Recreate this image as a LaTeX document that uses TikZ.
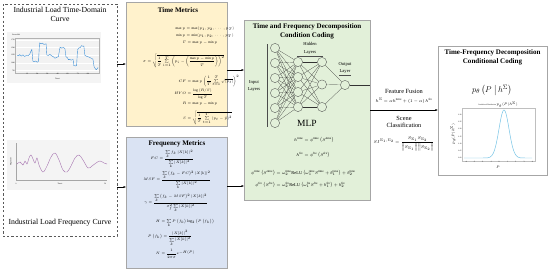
\documentclass[tikz,border=0pt]{standalone}
\usepackage{amsmath}
\usepackage{fontspec}
\setmainfont{Liberation Serif}
\usetikzlibrary{arrows.meta}
\definecolor{yellowbg}{HTML}{FFF2CC}
\definecolor{bluebg}{HTML}{DAE3F3}
\definecolor{greenbg}{HTML}{E2F0D9}
\definecolor{boxgray}{HTML}{A6A6A6}
\definecolor{chartbg}{HTML}{F4F4F4}
\definecolor{seriesblue}{HTML}{3A8ED6}
\definecolor{wavepurple}{HTML}{A978B2}
\definecolor{gaussblue}{HTML}{74C3E6}

\tikzset{
  paneltitle/.style={font=\fontsize{11}{12.5}\selectfont, align=center, inner sep=0},
  boxtitle/.style={font=\bfseries\fontsize{10}{12.5}\selectfont, align=center, inner sep=0},
  eqt/.style={font=\fontsize{5}{6}\selectfont, inner sep=0, anchor=west},
  eqf/.style={font=\fontsize{5.5}{6.5}\selectfont, inner sep=0, anchor=west},
  eqg/.style={font=\fontsize{6.3}{7}\selectfont, inner sep=0},
  layerlbl/.style={font=\fontsize{6.5}{10.5}\selectfont, align=center, inner sep=0},
  midlbl/.style={font=\fontsize{9}{11}\selectfont, align=center, inner sep=0},
  ticklbl/.style={font=\fontsize{2.6}{3}\selectfont, inner sep=0.4pt},
  neuron/.style={circle, draw=black!75, fill=greenbg, line width=0.4pt,
                 minimum size=0.46cm, inner sep=0},
  link/.style={black!80, line width=0.25pt},
  arr/.style={-{Latex[length=3.5pt,width=3pt]}, line width=0.5pt}
}

\begin{document}
\begin{tikzpicture}[x=0.05cm, y=-0.05cm]
  \useasboundingbox (0,0) rectangle (550,270);

  % Panel: load curves (left)
  \node[draw=black!65, dashed, line width=0.6pt, inner sep=0,
        minimum width=5.7cm, minimum height=11.6cm] (curves) at (60,120) {};
  \node[paneltitle] (curvettl) at (60,14.5) {Industrial Load Time-Domain\\Curve};
  \node[paneltitle] (freqttl) at (60,223) {Industrial Load Frequency Curve};

  % Time-domain chart
  \fill[chartbg] (7,32) rectangle (101,83);
  \begin{scope}[shift={(17,93.7)}, x=0.0422cm, y=0.001535cm]
    \fill[gray!10] (-2,675) rectangle (97,1815);
    \foreach \v in {750,1000,...,1750}
      \draw[white, line width=0.4pt] (-2,\v) -- (97,\v);
    \draw[gray!60, line width=0.3pt] (-2,675) rectangle (97,1815);
    \foreach \v in {750,1000,...,1750}
      \node[ticklbl, anchor=east] (ty\v) at (-2,\v) {\v};
    \foreach \t in {12,24,...,84}
      \node[ticklbl, anchor=north] (tx\t) at (\t,675) {\t};
    \node[ticklbl, anchor=west] (powerlbl) at (-6,1900) {Power/kW};
    \node[ticklbl] (timelbl) at (48,470) {Time/t};
    \draw[seriesblue, line width=0.55pt, line join=round] plot coordinates {
      (0,1250) (2,1230) (3,1270) (5,1220) (7,1260) (9,1210) (11,1240)
      (13,1230) (15,1280) (16,1350) (17.6,1440) (18.8,1060) (20,1040)
      (22,1060) (24,1020) (25.5,1050) (26.7,1650) (28,1620) (30,1640)
      (32,1600) (34.5,1620) (35.3,1260) (37,1240) (39,1280) (41,1230)
      (43,1200) (45,1150) (47,1180) (49,1200) (51,1510) (53,1480)
      (55,1500) (56.8,1460) (58,1200) (60,1160) (60.8,1100) (62,1120)
      (64,1090) (66.6,1110) (67,920) (69,900) (70.6,910) (71.7,1420)
      (73,1480) (75,1500) (76.4,1560) (78,1540) (79.2,1550) (80.4,1250)
      (82,1220) (84,1200) (86,1180) (88,1150) (90,1120) (91.3,880)
      (93,800) (94,780) (96,850)};
  \end{scope}

  % Frequency chart
  \fill[chartbg] (7,140) rectangle (110,190);
  \draw[gray!70, line width=0.3pt] (16,143) -- (16,180) -- (107,180);
  \node[ticklbl, rotate=90] (maglbl) at (11,162) {Magnitude};
  \node[ticklbl] (fx0) at (16,183.5) {0};
  \node[ticklbl] (fx50) at (105,183.5) {50};
  \node[ticklbl] (ftimelbl) at (60,183.5) {Time/t};
  \draw[wavepurple, line width=0.6pt] plot[smooth, tension=0.6] coordinates {
    (17,164) (20,162) (23,165) (25,161) (27,164) (29,158) (31,155)
    (33,159) (35,163) (37,158) (39,165) (43,172) (47,166) (51,157)
    (55,153) (59,160) (63,170) (67,172) (71,166) (75,158) (79,155)
    (83,160) (88,168) (92,166) (96,163) (100,161) (104,163) (107,164)};

  % Box: time metrics
  \node[draw=boxgray, fill=yellowbg, line width=0.5pt, inner sep=0,
        minimum width=5.05cm, minimum height=6.2cm] (timem) at (176.5,64) {};
  \node[boxtitle] (timettl) at (178,10) {Time Metrics};
  \node[eqt] (tm1) at (185,29) {\llap{$\max p$}${}=\max(p_1,p_2,\cdots,p_T)$};
  \node[eqt] (tm2) at (185,36) {\llap{$\min p$}${}=\min(p_1,p_2,\cdots,p_T)$};
  \node[eqt] (tm3) at (186,43) {\llap{$\Gamma$}${}=\max p-\min p$};
  \node[eqt] (tm4) at (146,61) {\llap{$\sigma$}${}=\sqrt{\dfrac{1}{T}\sum\limits_{i=1}^{T}\left(p_i-\left(\dfrac{\max p-\min p}{T}\right)\right)^2}$};
  \node[eqt] (tm5) at (186,81) {\llap{$CF$}${}=\max p\left(\dfrac{1}{T}\sum\limits_{t=1}^{T}\sqrt{\left|p_t\right|}\right)^2$};
  \node[eqt] (tm6) at (186,94) {\llap{$HYO$}${}=\dfrac{\log\left(R/S\right)}{\log T}$};
  \node[eqt] (tm7) at (186,104) {\llap{$R$}${}=\max p-\min p$};
  \node[eqt] (tm8) at (186,118) {\llap{$S$}${}=\sqrt{\dfrac{1}{T}\sum\limits_{t=1}^{T}\left(p_t-\bar{p}\right)^2}$};

  % Box: frequency metrics
  \node[draw=boxgray, fill=bluebg, line width=0.5pt, inner sep=0,
        minimum width=5.05cm, minimum height=6.55cm] (freqm) at (176.5,202.5) {};
  \node[boxtitle] (freqmttl) at (177,144) {Frequency Metrics};
  \node[eqf] (fm1) at (158,159) {\llap{$FC$}${}=\dfrac{\sum\limits_k f_k\left|X[k]\right|^2}{\sum\limits_k\left|X[k]\right|^2}$};
  \node[eqf] (fm2) at (155,180) {\llap{$MSF$}${}=\dfrac{\sum\limits_k\left(f_k-FC\right)^2\left|X[k]\right|^2}{\sum\limits_k\left|X[k]\right|^2}$};
  \node[eqf] (fm3) at (147,203) {\llap{$\gamma$}${}=\dfrac{\sum\limits_k\left(f_k-MSF\right)^2\left|X[k]\right|^2}{\sigma_f^2\sum\limits_k\left|X[k]\right|^2}$};
  \node[eqf] (fm4) at (160,223) {\llap{$H$}${}=\sum\limits_k P\left(f_k\right)\log_2\left(P\left(f_k\right)\right)$};
  \node[eqf] (fm5) at (162,238) {\llap{$P\left(f_k\right)$}${}=\dfrac{\left|X[k]\right|^2}{\sum\limits_k\left|X[k]\right|^2}$};
  \node[eqf] (fm6) at (160,254) {\llap{$N$}${}=\dfrac{1}{2\pi\sigma}e^{-H(P)}$};

  % Box: MLP condition coding
  \node[draw=boxgray, fill=greenbg, line width=0.5pt, inner sep=0,
        minimum width=6.3cm, minimum height=9cm] (mlpbox) at (307,110) {};
  \node[boxtitle] (mlpttl) at (307,31.5) {Time and Frequency Decomposition\\Condition Coding};
  \node[layerlbl] (inlbl) at (254,86) {Input\\Layers};
  \node[layerlbl] (hidlbl) at (310,48.5) {Hidden\\Layers};
  \node[layerlbl] (outlbl) at (345,68) {Output\\Layer};
  \draw[black!70, line width=0.4pt] (267,44) -- (267,127);
  \draw[black!70, line width=0.4pt] (297,56) -- (323,56);
  \draw[black!70, line width=0.4pt] (339,75.5) -- (351,75.5);

  \foreach \i in {1,...,6}
    \node[neuron] (in\i) at (275,{33+15*\i}) {};
  \foreach \i in {1,...,4}
    \node[neuron] (hA\i) at (298,{47+15*\i}) {};
  \foreach \i/\y in {1/62,2/84.5,3/107}
    \node[neuron] (hB\i) at (322,\y) {};
  \node[neuron] (out) at (345,85) {};
  \foreach \i in {1,...,6}
    \foreach \j in {1,...,4}
      \draw[link] (in\i) -- (hA\j);
  \foreach \i in {1,...,4}
    \foreach \j in {1,...,3}
      \draw[link] (hA\i) -- (hB\j);
  \foreach \j in {1,...,3}
    \draw[link] (hB\j) -- (out);
  \draw[link, line width=0.4pt] (out) -- (out -| mlpbox.east);

  \node[font=\fontsize{13.5}{14}\selectfont, inner sep=0] (mlplbl) at (307,123) {MLP};
  \node[eqg, anchor=west] (me1) at (303,140) {\llap{$h^{\mathrm{time}}$}${}=\phi^{\mathrm{time}}\left(S^{\mathrm{time}}\right)$};
  \node[eqg, anchor=west] (me2) at (303,155) {\llap{$h^{\mathrm{fre}}$}${}=\phi^{\mathrm{fre}}\left(S^{\mathrm{fre}}\right)$};
  \node[eqg, anchor=west] (me3) at (275,173) {\llap{$\phi^{\mathrm{time}}\left(S^{\mathrm{time}}\right)$}${}=\omega_2^{\mathrm{time}}\mathrm{ReLU}\left(\omega_1^{\mathrm{time}}S^{\mathrm{time}}+b_1^{\mathrm{time}}\right)+b_2^{\mathrm{time}}$};
  \node[eqg, anchor=west] (me4) at (275,185) {\llap{$\phi^{\mathrm{fre}}\left(S^{\mathrm{fre}}\right)$}${}=\omega_2^{\mathrm{fre}}\mathrm{ReLU}\left(\omega_1^{\mathrm{fre}}S^{\mathrm{fre}}+b_1^{\mathrm{fre}}\right)+b_2^{\mathrm{fre}}$};

  % Box: conditional coding (right)
  \node[draw=boxgray, fill=white, line width=0.5pt, inner sep=0,
        minimum width=5.45cm, minimum height=6.45cm] (condbox) at (492.5,110.5) {};
  \node[boxtitle] (condttl) at (492.5,57) {Time-Frequency Decomposition\\Conditional Coding};
  \node[font=\fontsize{13}{14}\selectfont, inner sep=0] (condeq) at (492,90)
       {$p_\theta\left(P\;\middle|\,h^{\Sigma}\right)$};
  \draw[gray!50, line width=0.3pt] (462,108) rectangle (535,161);
  \node[ticklbl] (gttl) at (498,104.5) {Conditional Distribution $p_\theta(P|h^{\Sigma})$};
  \foreach \k/\v in {0/0.30,1/0.25,2/0.20,3/0.15,4/0.10,5/0.05,6/0.00}
    \node[ticklbl, anchor=east] (gy\k) at (462,{115+7.2*\k}) {\v};
  \foreach \k/\v in {0/-4,1/-3,2/-2,3/-1,4/0,5/1,6/2,7/3,8/4}
    \node[ticklbl, anchor=north] (gx\k) at ({466+8.3*\k},161) {\v};
  \node[ticklbl, rotate=90] (gylbl) at (453,134) {$p_\theta(P|h^{\Sigma})$};
  \node[ticklbl] (gxlbl) at (498,167) {$P$};
  \draw[gaussblue, line width=0.7pt] plot[domain=464:532, samples=90]
       (\x, {158-48*exp(-((\x-504)^2)/50)});

  % Feature fusion and scene classification
  \node[midlbl] (fuselbl) at (404,91) {Feature Fusion};
  \node[eqg] (fuseeq) at (404,100.5) {$h^{\Sigma}=\alpha h^{\mathrm{time}}+\left(1-\alpha\right)h^{\mathrm{fre}}$};
  \node[midlbl] (scenelbl) at (404,122) {Scene\\Classification};
  \node[eqg] (sieq) at (404,144) {$SI^{\Sigma_1,\Sigma_2}=\dfrac{S_{\Sigma_1}S_{\Sigma_2}}{\left\|S_{\Sigma_1}\right\|\left\|S_{\Sigma_2}\right\|}$};

  % Connectors
  \coordinate (fmin) at (126,187);
  \coordinate (mlpin1) at (244,70);
  \coordinate (mlpin2) at (244,186);
  \draw[arr] (curves.east |- timem.west) -- (timem.west);
  \draw[arr] (curves.east |- fmin) -- (fmin);
  \draw[arr] (timem.east |- mlpin1) -- (mlpin1);
  \draw[arr] (freqm.east |- mlpin2) -- (mlpin2);
  \draw[arr] (mlpbox.east) -- (mlpbox.east -| condbox.west);
\end{tikzpicture}
\end{document}
